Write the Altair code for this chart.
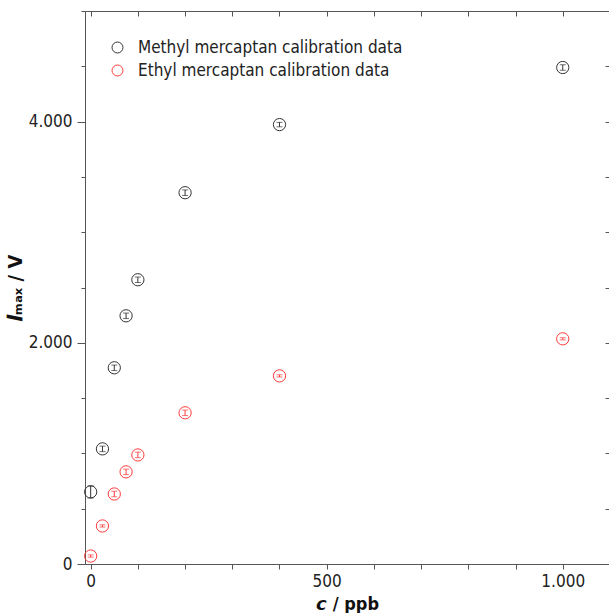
import altair as alt
import pandas as pd

# ---- data ----
conc = [0, 25, 50, 75, 100, 200, 400, 1000]
methyl = [652, 1041, 1774, 2244, 2570, 3357, 3973, 4489]
methyl_err = [55, 25, 25, 25, 25, 25, 20, 25]
ethyl = [72, 344, 633, 833, 986, 1367, 1701, 2036]
ethyl_err = [10, 10, 25, 25, 25, 25, 10, 10]
series = ["Methyl mercaptan calibration data", "Ethyl mercaptan calibration data"]
colors = ["#333333", "#ff3b3b"]
x_ticks = list(range(0, 1001, 100))
y_ticks = list(range(0, 5001, 500))
y_major = [0, 2000, 4000]

rows = []
for c, v, e in zip(conc, methyl, methyl_err):
    rows.append({"c": c, "I": v, "err": e, "series": series[0]})
for c, v, e in zip(conc, ethyl, ethyl_err):
    rows.append({"c": c, "I": v, "err": e, "series": series[1]})
df = pd.DataFrame(rows)

FONT = "DejaVu Sans Condensed"
xscale = alt.Scale(domain=[-12, 1098], nice=False, zero=False)
yscale = alt.Scale(domain=[0, 5000], nice=False, zero=False)
cscale = alt.Scale(domain=series, range=colors)

base = alt.Chart(df)

points = base.mark_point(shape="circle", filled=False, size=150, strokeWidth=1, opacity=1).encode(
    x=alt.X("c:Q", scale=xscale,
            axis=alt.Axis(orient="bottom", values=x_ticks, grid=False, title="𝙘 / ppb",
                          labelExpr="datum.value % 500 == 0 ? replace(format(datum.value, ','), ',', '.') : ''",
                          tickSize=5, labelPadding=4, titlePadding=6)),
    y=alt.Y("I:Q", scale=yscale,
            axis=alt.Axis(orient="left", values=y_ticks, grid=False, title="𝑰ₘₐₓ / V",
                          labelExpr="datum.value % 2000 == 0 ? replace(format(datum.value, ','), ',', '.') : ''",
                          tickSize=4, labelPadding=9, titlePadding=3, titleFontSize=20)),
    color=alt.Color("series:N", scale=cscale, sort=series,
                    legend=alt.Legend(title=None, orient="none", legendX=24, legendY=28,
                                      symbolType="circle", symbolSize=120, symbolStrokeWidth=1,
                                      labelFont=FONT, labelFontSize=17, labelColor="#222222",
                                      labelLimit=0, rowPadding=5, labelOffset=12, padding=0)),
)

err_layers = []
for s, col in zip(series, colors):
    err_layers.append(
        base.transform_filter(alt.datum.series == s)
        .mark_errorbar(ticks={"size": 6}, thickness=1, color=col)
        .encode(
            x=alt.X("c:Q", scale=xscale, axis=None),
            y=alt.Y("I:Q", scale=yscale, axis=None),
            yError="err:Q",
        )
    )

frame = base.mark_point(opacity=0).encode(
    x=alt.X("c:Q", scale=xscale,
            axis=alt.Axis(orient="top", values=x_ticks, labels=False, title=None, grid=False,
                          domain=True, tickSize=alt.ExprRef("-5"))),
    y=alt.Y("I:Q", scale=yscale,
            axis=alt.Axis(orient="right", values=y_ticks, labels=False, title=None, grid=False,
                          domain=False, tickSize=alt.ExprRef("-4"))),
)

major = base.mark_point(opacity=0).encode(
    x=alt.X("c:Q", scale=xscale, axis=None),
    y=alt.Y("I:Q", scale=yscale,
            axis=alt.Axis(orient="left", values=y_major, labels=False, title=None, grid=False,
                          domain=False, tickSize=8)),
)

chart = alt.layer(points, *err_layers, frame, major).resolve_axis(
    x="independent", y="independent"
).properties(
    width=524, height=553,
    autosize=alt.AutoSizeParams(type="none"),
    padding={"left": 85, "top": 11, "right": 0, "bottom": 49},
).configure_view(stroke=None).configure_axis(
    domainColor="#555555", tickColor="#555555", domainWidth=1, tickWidth=1,
    labelFont=FONT, labelFontSize=17, labelColor="#222222",
    titleFont=FONT, titleFontSize=18, titleFontWeight="bold", titleColor="#111111",
)

chart.save("out.html", embed_options={"renderer": "svg", "actions": False})
